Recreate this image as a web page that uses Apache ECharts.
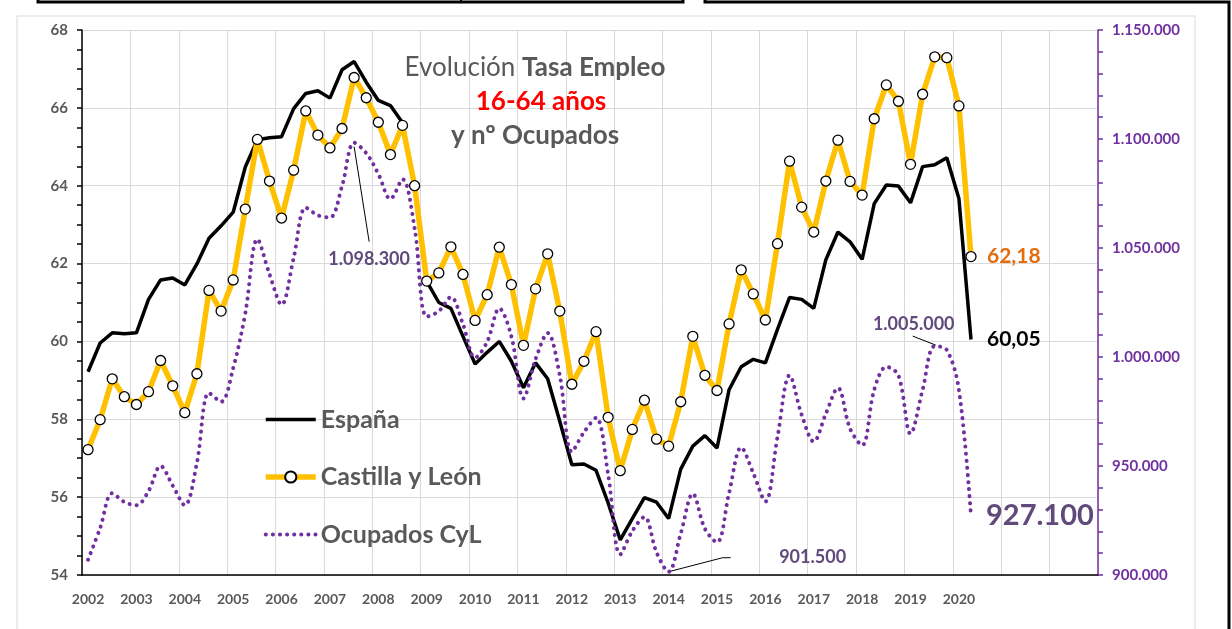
<!DOCTYPE html>
<html>
<head>
<meta charset="utf-8">
<script src="https://cdn.jsdelivr.net/npm/echarts@6/dist/echarts.min.js"></script>
<style>
  html, body { margin: 0; background: #fff; }
  #main { width: 1232px; height: 629px; }
</style>
</head>
<body>
<div id="main"></div>
<script>
// quarterly data, 2002 T1 .. 2020 T2
const yearLabels = ['2002', '2003', '2004', '2005', '2006', '2007', '2008', '2009', '2010', '2011',
  '2012', '2013', '2014', '2015', '2016', '2017', '2018', '2019', '2020']
const axisYears = 21 // the axis runs on to 2022 without labels

const espana = [
  59.22, 59.96, 60.22, 60.20, 60.22, 61.08, 61.58, 61.63, 61.45, 61.99,
  62.65, 62.97, 63.32, 64.48, 65.18, 65.23, 65.26, 65.98, 66.37, 66.44,
  66.25, 66.98, 67.19, 66.66, 66.19, 66.06, 65.62, 63.95, 61.54, 61.00,
  60.85, 60.13, 59.42, 59.72, 60.00, 59.49, 58.81, 59.45, 59.04, 57.95,
  56.83, 56.85, 56.69, 55.85, 54.90, 55.45, 55.99, 55.87, 55.45, 56.72,
  57.31, 57.58, 57.26, 58.76, 59.35, 59.54, 59.45, 60.31, 61.13, 61.08,
  60.85, 62.10, 62.81, 62.56, 62.11, 63.54, 64.02, 63.99, 63.56, 64.49,
  64.54, 64.72, 63.67, 60.05
]
const cyl = [
  57.22, 57.99, 59.04, 58.58, 58.38, 58.71, 59.51, 58.86, 58.17, 59.17,
  61.31, 60.78, 61.58, 63.40, 65.19, 64.12, 63.17, 64.40, 65.92, 65.30,
  64.97, 65.47, 66.78, 66.26, 65.63, 64.80, 65.55, 64.00, 61.55, 61.76,
  62.43, 61.72, 60.54, 61.20, 62.42, 61.46, 59.90, 61.35, 62.25, 60.78,
  58.90, 59.49, 60.25, 58.05, 56.68, 57.74, 58.49, 57.49, 57.31, 58.45,
  60.13, 59.13, 58.74, 60.45, 61.84, 61.22, 60.55, 62.51, 64.63, 63.45,
  62.81, 64.12, 65.17, 64.11, 63.76, 65.72, 66.59, 66.17, 64.55, 66.35,
  67.31, 67.29, 66.05, 62.18
]
const ocupados = [
  907000, 921500, 937500, 933500, 932000, 938500, 950000, 941000, 932000, 951500,
  983500, 979500, 995000, 1020000, 1054000, 1038000, 1024000, 1045500, 1068500, 1065000,
  1064000, 1078500, 1098300, 1093500, 1084000, 1072500, 1081500, 1059000, 1018500, 1021000,
  1027500, 1015000, 999700, 1007000, 1022300, 1009500, 981000, 999000, 1011000, 991600,
  956600, 965500, 972100, 946100, 909500, 920200, 926600, 910400, 901500, 919000,
  937300, 921200, 915000, 937700, 958500, 946700, 933700, 963300, 991600, 973500,
  961200, 974000, 985800, 967100, 959500, 985000, 995500, 991600, 964800, 985000,
  1005000, 1003200, 985000, 927100
]

// highlighted values of Ocupados CyL (index in the series)
const notes = [22, 48, 70]

const firstYear = +yearLabels[0]
const categories = []
for (let y = 0; y < axisYears; y++) {
  for (let q = 1; q <= 4; q++) categories.push((firstYear + y) + '-T' + q)
}

const FONT = 'Lato, "Open Sans", sans-serif'
const GREY = '#595959'
const PURPLE = '#7030A0'
const NOTE = '#604A7B'

const lineEsp = { color: '#000', width: 3.5 }
const lineCyl = { color: '#FFC000', width: 5.5 }
const lineOcu = { color: PURPLE, width: 4, type: [0.1, 7], cap: 'round' }

const miles = v => String(Math.round(v)).replace(/\B(?=(\d{3})+(?!\d))/g, '.')
const coma = v => v.toFixed(2).replace('.', ',')

let myChart = echarts.init(document.getElementById('main'))

myChart.setOption({
  animation: false,
  backgroundColor: '#fff',
  grid: { left: 82, right: 134, top: 30, bottom: 54 },
  legend: {
    orient: 'vertical',
    left: 263,
    top: 407,
    padding: 0,
    itemWidth: 50,
    itemHeight: 14,
    itemGap: 32.5,
    textStyle: { fontFamily: FONT, fontSize: 25, fontWeight: 'bold', color: GREY },
    data: [
      { name: 'España', itemStyle: { opacity: 0 }, lineStyle: lineEsp },
      { name: 'Castilla y León', lineStyle: lineCyl },
      { name: 'Ocupados CyL', itemStyle: { opacity: 0 }, lineStyle: lineOcu }
    ]
  },
  xAxis: {
    type: 'category',
    data: categories,
    boundaryGap: true,
    axisLine: { lineStyle: { color: '#000', width: 1.5 } },
    axisTick: { interval: 1, length: 5, lineStyle: { color: '#000', width: 1.5 } },
    splitLine: { show: true, interval: 3, lineStyle: { color: '#d9d9d9', width: 1 } },
    axisLabel: {
      interval: 3,
      margin: 17,
      color: GREY,
      fontFamily: FONT,
      fontSize: 14,
      fontWeight: 'bold',
      formatter: v => {
        const y = v.split('-')[0]
        return yearLabels.includes(y) ? y : ''
      }
    }
  },
  yAxis: [{
    type: 'value',
    min: 54,
    max: 68,
    interval: 2,
    axisLine: { show: true, lineStyle: { color: '#000', width: 1.5 } },
    axisTick: { show: true, length: 5, lineStyle: { color: '#000', width: 1.5 } },
    minorTick: { show: true, splitNumber: 4, length: 5, lineStyle: { color: '#000', width: 1.5 } },
    splitLine: { lineStyle: { color: '#d9d9d9', width: 1 } },
    axisLabel: { color: GREY, fontFamily: FONT, fontSize: 15, fontWeight: 'bold', margin: 14 }
  }, {
    type: 'value',
    min: 900000,
    max: 1150000,
    interval: 50000,
    position: 'right',
    axisLine: { show: true, lineStyle: { color: PURPLE, width: 1.5 } },
    axisTick: { show: true, length: 5, lineStyle: { color: PURPLE, width: 1.5 } },
    minorTick: { show: true, splitNumber: 5, length: 5, lineStyle: { color: PURPLE, width: 1.5 } },
    splitLine: { show: false },
    axisLabel: { color: PURPLE, fontFamily: FONT, fontSize: 15, fontWeight: 'bold', margin: 14, formatter: miles }
  }],
  series: [{
    name: 'España',
    type: 'line',
    data: espana,
    showSymbol: false,
    symbol: 'none',
    lineStyle: lineEsp,
    itemStyle: { color: '#000' },
    endLabel: {
      show: true, distance: 16, formatter: p => coma(p.value),
      fontFamily: FONT, fontSize: 21, fontWeight: 'bold', color: '#000'
    }
  }, {
    name: 'Castilla y León',
    type: 'line',
    data: cyl,
    symbol: 'circle',
    symbolSize: 10,
    showAllSymbol: true,
    lineStyle: lineCyl,
    itemStyle: { color: '#fff', borderColor: '#000', borderWidth: 1.3 },
    endLabel: {
      show: true, distance: 16, formatter: p => coma(p.value),
      fontFamily: FONT, fontSize: 21, fontWeight: 'bold', color: '#E46C0A'
    }
  }, {
    name: 'Ocupados CyL',
    type: 'line',
    yAxisIndex: 1,
    data: ocupados,
    smooth: 0.35,
    showSymbol: false,
    symbol: 'none',
    lineStyle: lineOcu,
    itemStyle: { color: PURPLE },
    endLabel: {
      show: true, distance: 15, formatter: p => miles(p.value),
      fontFamily: FONT, fontSize: 29, fontWeight: 'bold', color: NOTE
    }
  }]
})

// offsets of leader line and text from each highlighted point (pixels)
const noteStyle = [
  { line: [[0, 4], [15, 99]], text: [15, 116] },
  { line: [[0, 0], [54, -14], [62, -14]], text: [144, -15] },
  { line: [[1, -1], [-22, -10]], text: [-21, -22] }
]

const graphics = [
  { type: 'rect', z: -10, shape: { x: 17, y: 16, width: 1178, height: 640 },
    style: { fill: 'none', stroke: '#d9d9d9', lineWidth: 1 } },
  { type: 'rect', shape: { x: 38, y: -20, width: 645, height: 22 },
    style: { fill: 'none', stroke: '#000', lineWidth: 3 } },
  { type: 'line', shape: { x1: 461, y1: 0, x2: 461, y2: 2 }, style: { stroke: '#000', lineWidth: 2 } },
  { type: 'polyline', shape: { points: [[705, -5], [705, 2], [1229, 2], [1229, 640]] },
    style: { fill: 'none', stroke: '#000', lineWidth: 3 } },
  {
    type: 'text', x: 535, y: 68,
    style: {
      text: '{a|Evolución }{b|Tasa Empleo}', textAlign: 'center', textVerticalAlign: 'middle',
      rich: {
        a: { fontFamily: FONT, fontSize: 26, fill: GREY },
        b: { fontFamily: FONT, fontSize: 26, fontWeight: 'bold', fill: GREY }
      }
    }
  },
  { type: 'text', x: 541, y: 102,
    style: { text: '16-64 años', textAlign: 'center', textVerticalAlign: 'middle',
      font: 'bold 26px ' + FONT, fill: '#FF0000' } },
  { type: 'text', x: 535, y: 136,
    style: { text: 'y nº Ocupados', textAlign: 'center', textVerticalAlign: 'middle',
      font: 'bold 26px ' + FONT, fill: GREY } }
]

notes.forEach((idx, k) => {
  const p = myChart.convertToPixel({ xAxisIndex: 0, yAxisIndex: 1 }, [idx, ocupados[idx]])
  const s = noteStyle[k]
  graphics.push({
    type: 'polyline',
    shape: { points: s.line.map(d => [p[0] + d[0], p[1] + d[1]]) },
    style: { fill: 'none', stroke: '#000', lineWidth: 1 }
  })
  graphics.push({
    type: 'text', x: p[0] + s.text[0], y: p[1] + s.text[1],
    style: { text: miles(ocupados[idx]), textAlign: 'center', textVerticalAlign: 'middle',
      font: 'bold 18px ' + FONT, fill: NOTE }
  })
})

myChart.setOption({ graphic: graphics })
</script>
</body>
</html>
